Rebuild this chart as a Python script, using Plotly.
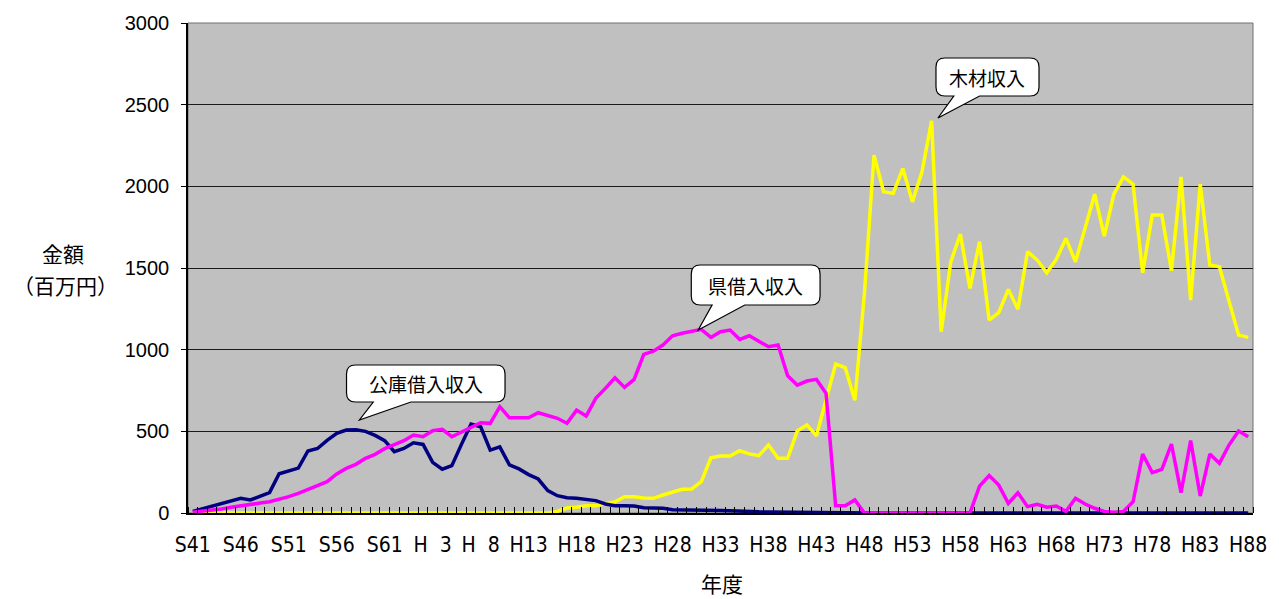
import plotly.graph_objects as go

# ---------------- data ----------------
# one value per fiscal year, S41 (1966) ... H88 (2076)
koko_kariire = [  # 公庫借入収入
    10, 25, 40, 55, 75, 90, 80, 100, 125, 240,
    255, 275, 380, 395, 445, 488, 508, 510, 500, 475,
    443, 375, 395, 430, 420, 310, 268, 290, 420, 545,
    528, 385, 405, 295, 270, 235, 208, 137, 106, 94,
    90, 82, 76, 55, 45, 45, 43, 32, 31, 29,
    20, 18, 17, 16, 15, 15, 14, 10, 8, 7,
    6, 5, 4, 3, 3, 2, 1, 0, 0, 0,
    0, 0, 0, 0, 0, 0, 0, 0, 0, 0,
    0, 0, 0, 0, 0, 0, 0, 0, 0, 0,
    0, 0, 0, 0, 0, 0, 0, 0, 0, 0,
    0, 0, 0, 0, 0, 0, 0, 0, 0, 0, 0,
]
ken_kariire = [  # 県借入収入
    5, 10, 15, 25, 35, 45, 53, 61, 69, 84,
    100, 120, 145, 165, 192, 239, 273, 298, 335, 359,
    394, 418, 443, 477, 467, 504, 512, 467, 496, 528,
    553, 549, 651, 583, 583, 583, 614, 596, 580, 549,
    630, 594, 702, 763, 828, 769, 818, 971, 991, 1028,
    1085, 1100, 1110, 1124, 1075, 1110, 1120, 1063, 1085, 1054,
    1018, 1028, 840, 783, 808, 818, 733, 45, 45, 80,
    0, 0, 0, 0, 0, 0, 0, 0, 0, 0,
    0, 0, 165, 229, 171, 59, 124, 39, 53, 35,
    43, 10, 90, 55, 29, 10, 5, 10, 69, 361,
    247, 267, 422, 124, 443, 104, 361, 304, 416, 502, 467,
]
mokuzai = [  # 木材収入
    0, 0, 0, 0, 0, 0, 0, 0, 0, 0,
    0, 0, 0, 0, 0, 0, 0, 0, 0, 0,
    0, 0, 0, 0, 0, 0, 0, 0, 0, 0,
    0, 0, 0, 0, 0, 0, 0, 0, 10, 30,
    35, 45, 45, 59, 69, 100, 100, 92, 90, 110,
    130, 145, 147, 192, 338, 349, 349, 381, 362, 351,
    416, 335, 335, 502, 539, 473, 692, 912, 890, 690,
    1345, 2191, 1967, 1957, 2109, 1905, 2089, 2401, 1110, 1538,
    1707, 1375, 1661, 1181, 1226, 1369, 1247, 1600, 1550, 1471,
    1553, 1681, 1538, 1752, 1952, 1695, 1952, 2058, 2013, 1471,
    1824, 1824, 1483, 2058, 1304, 2013, 1518, 1507, 1304, 1089, 1075,
]
tick_labels = ["S41", "S46", "S51", "S56", "S61", "H\u00a0\u00a03", "H\u00a0\u00a08",
               "H13", "H18", "H23", "H28", "H33", "H38", "H43", "H48", "H53",
               "H58", "H63", "H68", "H73", "H78", "H83", "H88"]
tick_step = 5
y_ticks = [0, 500, 1000, 1500, 2000, 2500, 3000]

x = list(range(len(mokuzai)))
tickvals = [i * tick_step for i in range(len(tick_labels))]

# ---------------- layout geometry (pixels) ----------------
W, H = 1279, 599
L, R, T, B = 188, 1263, 23, 513


def px(xp):
    return (xp - L) / (R - L)


def py(yp):
    return (B - yp) / (B - T)


fig = go.Figure()
fig.add_trace(go.Scatter(x=x, y=mokuzai, mode="lines", name="木材収入",
                         line=dict(color="#FFFF00", width=3.5)))
fig.add_trace(go.Scatter(x=x, y=koko_kariire, mode="lines", name="公庫借入収入",
                         line=dict(color="#000080", width=3.5)))
fig.add_trace(go.Scatter(x=x, y=ken_kariire, mode="lines", name="県借入収入",
                         line=dict(color="#FF00FF", width=3.5)))

shapes = []
annotations = []


def callout(x0, y0, x1, y1, b0, b1, tip, text, r=9):
    pts = [
        ("M", x0 + r, y0),
        ("L", x1 - r, y0), ("Q", x1, y0, x1, y0 + r),
        ("L", x1, y1 - r), ("Q", x1, y1, x1 - r, y1),
        ("L", b1, y1), ("L", tip[0], tip[1]), ("L", b0, y1),
        ("L", x0 + r, y1), ("Q", x0, y1, x0, y1 - r),
        ("L", x0, y0 + r), ("Q", x0, y0, x0 + r, y0),
    ]
    path = ""
    for p in pts:
        cmd = p[0]
        coords = p[1:]
        s = []
        for k in range(0, len(coords), 2):
            s.append(f"{px(coords[k]):.5f},{py(coords[k + 1]):.5f}")
        path += cmd + " ".join(s) + " "
    path += "Z"
    shapes.append(dict(type="path", path=path, xref="paper", yref="paper",
                       fillcolor="white", line=dict(color="black", width=1.2),
                       layer="above"))
    annotations.append(dict(x=px((x0 + x1) / 2), y=py((y0 + y1) / 2), xref="paper",
                            yref="paper", text=text, showarrow=False,
                            xanchor="center", yanchor="middle",
                            font=dict(family="Noto Sans CJK JP", size=19, color="black")))


callout(348, 365, 508, 402, 375, 413, (361, 420), "公庫借入収入")
callout(696, 265, 826, 305, 717, 750, (703, 330), "県借入収入")
callout(943, 58, 1047, 96, 961, 987, (945, 118), "木材収入")

# plot border (top/right grey)
shapes.append(dict(type="rect", xref="paper", yref="paper", x0=0, y0=0, x1=1, y1=1,
                   line=dict(color="#707070", width=1), layer="below"))

annotations.append(dict(x=px(62), y=py(253), xref="paper", yref="paper", text="金額",
                        showarrow=False, xanchor="center", yanchor="middle",
                        font=dict(family="Noto Sans CJK JP", size=21, color="black")))
annotations.append(dict(x=px(64), y=py(285), xref="paper", yref="paper", text="（百万円）",
                        showarrow=False, xanchor="center", yanchor="middle",
                        font=dict(family="Noto Sans CJK JP", size=21, color="black")))
annotations.append(dict(x=px(727), y=py(583), xref="paper", yref="paper", text="年度",
                        showarrow=False, xanchor="center", yanchor="middle",
                        font=dict(family="Noto Sans CJK JP", size=21, color="black")))

fig.update_layout(
    width=W, height=H,
    margin=dict(l=L, r=W - R, t=T, b=H - B, pad=0),
    paper_bgcolor="white",
    plot_bgcolor="#C0C0C0",
    showlegend=False,
    shapes=shapes,
    annotations=annotations,
    xaxis=dict(
        range=[-0.5, len(x) - 0.5],
        tickmode="array", tickvals=tickvals, ticktext=tick_labels,
        ticks="", showgrid=False, zeroline=False,
        showline=True, linecolor="black", linewidth=2,
        tickfont=dict(family="Liberation Sans Narrow, DejaVu Sans Condensed, Liberation Sans",
                      size=21, color="black"),
        ticklabelstandoff=12,
        minor=dict(tickmode="linear", tick0=0.5, dtick=1, ticks="inside", ticklen=6,
                   tickcolor="black", tickwidth=1, showgrid=False),
    ),
    yaxis=dict(
        range=[0, 3000], tickmode="array", tickvals=y_ticks,
        showgrid=True, gridcolor="#1a1a1a", gridwidth=1, zeroline=False,
        showline=True, linecolor="black", linewidth=1.5,
        ticks="outside", ticklen=5, tickcolor="black",
        tickfont=dict(family="Liberation Sans, Arial", size=20, color="black"),
        ticklabelstandoff=8,
    ),
)

fig.write_html(
    "out.html",
    config={"displayModeBar": False},
    post_script="document.body.style.margin='0';document.body.style.overflow='hidden';",
)
